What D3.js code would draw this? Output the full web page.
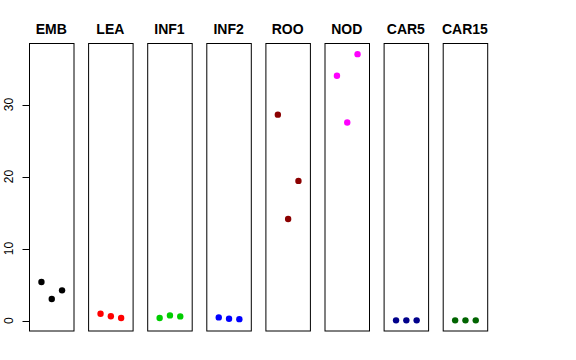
<!DOCTYPE html>
<html lang="en">
<head>
<meta charset="UTF-8">
<title>panels</title>
<script src="https://d3js.org/d3.v7.min.js"></script>
<style>
  body { margin: 0; background: #fff; }
  text { font-family: "Liberation Sans", Arial, Helvetica, sans-serif; }
</style>
</head>
<body>
<div id="chart"></div>
<script>
    // data
    var groups = ["EMB", "LEA", "INF1", "INF2", "ROO", "NOD", "CAR5", "CAR15"];
    var colors = ["#000000", "#FF0000", "#00CD00", "#0000FF", "#8B0000", "#FF00FF", "#00008B", "#006400"];
    var EMB   = [5.35, 3.0, 4.2];
    var LEA   = [0.95, 0.6, 0.35];
    var INF1  = [0.35, 0.72, 0.58];
    var INF2  = [0.44, 0.25, 0.2];
    var ROO   = [28.6, 14.1, 19.4];
    var NOD   = [34.0, 27.5, 37.0];
    var CAR5  = [0.03, 0.03, 0.03];
    var CAR15 = [0.03, 0.03, 0.03];
    var values = [EMB, LEA, INF1, INF2, ROO, NOD, CAR5, CAR15];
    var yTicks = [0, 10, 20, 30];

    var width = 576, height = 360;
    var plotTop = 43.5, plotBottom = 331;
    var panelW = 44.5, left0 = 29, pitch = 59.1;

    var svg = d3.select("#chart").append("svg")
        .attr("width", width)
        .attr("height", height);

    // R style 4% padding on y
    var yMin = d3.min(values, v => d3.min(v)), yMax = d3.max(values, v => d3.max(v));
    var pad = (yMax - yMin) * 0.04;
    var y = d3.scaleLinear().domain([yMin - pad, yMax + pad]).range([plotBottom, plotTop]);

    // x positions 1..3 inside xlim 0..4
    var x = d3.scaleLinear().domain([-0.16, 4.16]).range([0, panelW]);

    var panels = svg.selectAll("g.panel")
        .data(groups)
        .enter()
        .append("g")
        .attr("class", "panel")
        .attr("transform", (d, i) => "translate(" + (left0 + i * pitch) + ",0)");

    panels.append("rect")
        .attr("x", 0.5)
        .attr("y", plotTop)
        .attr("width", panelW)
        .attr("height", plotBottom - plotTop)
        .attr("fill", "none")
        .attr("stroke", "#000")
        .attr("stroke-width", 1);

    panels.append("text")
        .attr("x", panelW / 2)
        .attr("y", 34)
        .attr("text-anchor", "middle")
        .attr("font-weight", "bold")
        .attr("font-size", 14)
        .text(d => d);

    panels.selectAll("circle")
        .data((d, i) => values[i].map((v, j) => ({v: v, j: j + 1, c: colors[i]})))
        .enter()
        .append("circle")
        .attr("cx", d => x(d.j) + 0.5)
        .attr("cy", d => y(d.v))
        .attr("r", 3.2)
        .attr("fill", d => d.c);

    // y axis on the first panel
    var axis = svg.append("g")
        .attr("transform", "translate(" + (left0 + 0.5) + ",0)");
    axis.append("line")
        .attr("y1", y(0)).attr("y2", y(30))
        .attr("stroke", "#000");
    axis.selectAll("line.tick")
        .data(yTicks)
        .enter()
        .append("line")
        .attr("class", "tick")
        .attr("x1", -7).attr("x2", 0)
        .attr("y1", d => Math.round(y(d)) + 0.5)
        .attr("y2", d => Math.round(y(d)) + 0.5)
        .attr("stroke", "#000");
    axis.selectAll("text")
        .data(yTicks)
        .enter()
        .append("text")
        .attr("transform", d => "translate(-17," + y(d) + ") rotate(-90)")
        .attr("text-anchor", "middle")
        .attr("font-size", 12)
        .text(d => d);
</script>
</body>
</html>
